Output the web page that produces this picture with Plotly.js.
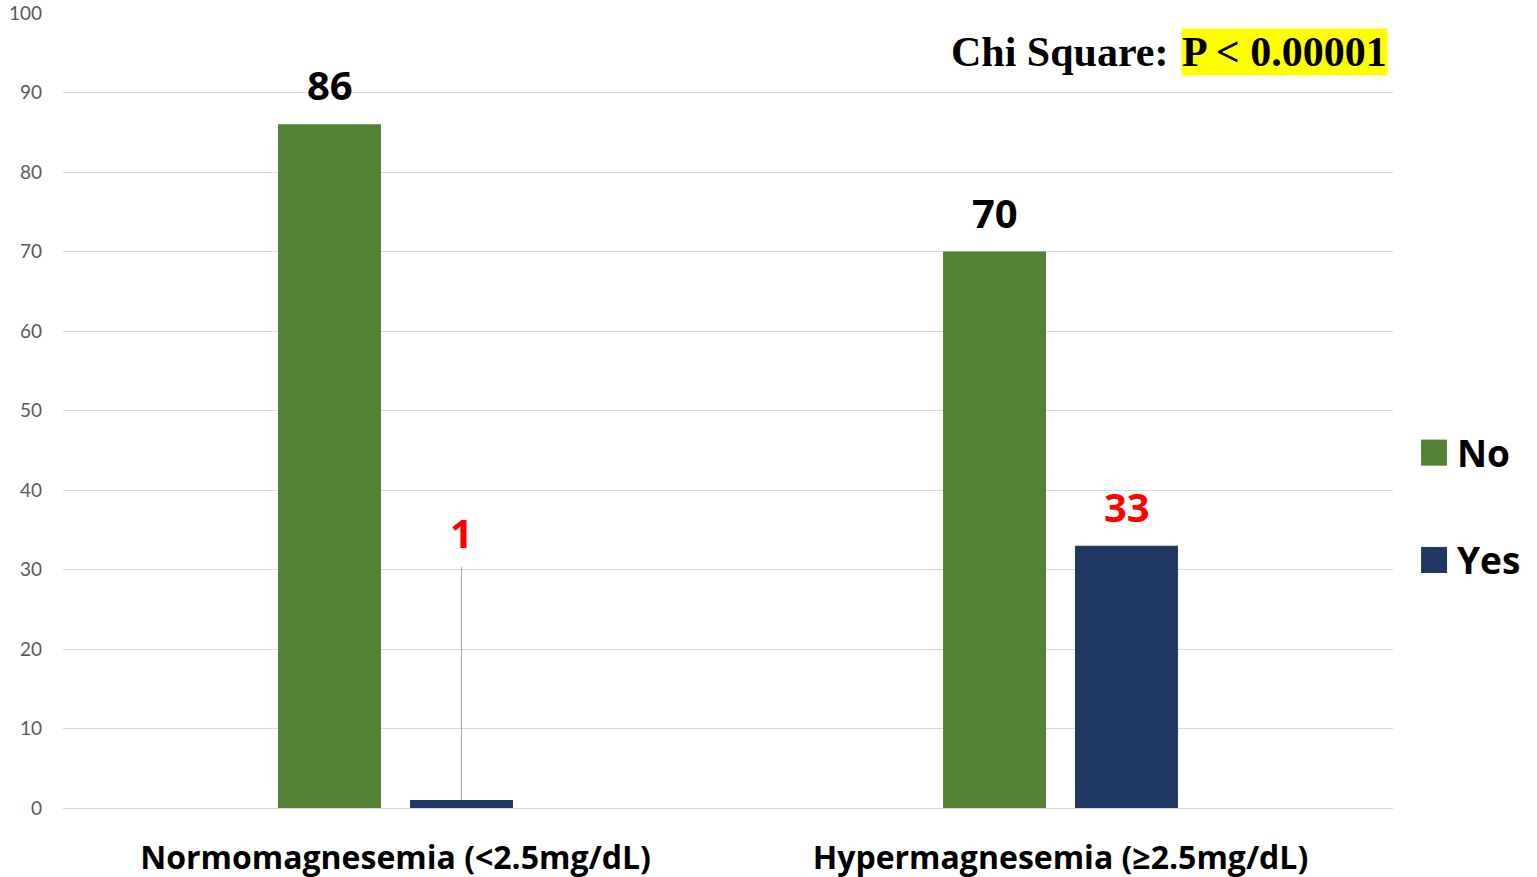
<!DOCTYPE html>
<html>
<head>
<meta charset="utf-8">
<script src="https://cdn.plot.ly/plotly-3.0.1.min.js"></script>
<style>html,body{margin:0;padding:0;background:#fff;}#chart{width:1537px;height:877px;}</style>
</head>
<body>
<div id="chart"></div>
<script>
const categories = ["Normomagnesemia (<2.5mg/dL)", "Hypermagnesemia (≥2.5mg/dL)"];
const seriesNames = ["No", "Yes"];
const noValues = [86, 70];
const yesValues = [1, 33];
const yTicks = [0, 10, 20, 30, 40, 50, 60, 70, 80, 90, 100];
const statText = "Chi Square:";
const statValue = "P < 0.00001";

const colors = {No: "#548235", Yes: "#203864"};
const labelColors = {No: "#000000", Yes: "#ff0000"};
const font = "'Open Sans', Lato, sans-serif";
const tickFont = "Lato, 'Open Sans', sans-serif";
const serif = "'Liberation Serif', 'Times New Roman', serif";

const bargap = 0.603, bargroupgap = 0.22;
const slot = (1 - bargap) / 2;

const traces = [
  {type: "bar", name: seriesNames[0], x: [0, 1], y: noValues, marker: {color: colors.No}, showlegend: false, hoverinfo: "y"},
  {type: "bar", name: seriesNames[1], x: [0, 1], y: yesValues, marker: {color: colors.Yes}, showlegend: false, hoverinfo: "y"}
];

const annotations = [];
[[noValues, "No", -1], [yesValues, "Yes", 1]].forEach(([vals, nm, side]) => {
  vals.forEach((v, i) => {
    const x = i + side * slot / 2;
    if (v < 5) {
      annotations.push({x: x, y: v, xref: "x", yref: "y", text: "<b>" + v + "</b>",
        showarrow: true, arrowhead: 0, arrowwidth: 1, arrowcolor: "#a6a6a6",
        ax: 0, ay: -268, startstandoff: 6,
        font: {family: font, size: 40, color: labelColors[nm]}});
    } else {
      annotations.push({x: x, y: v, xref: "x", yref: "y", text: "<b>" + v + "</b>",
        showarrow: false, yanchor: "bottom", yshift: 10,
        font: {family: font, size: 40, color: labelColors[nm]}});
    }
  });
});

annotations.push({xref: "paper", yref: "paper", x: 0.996, y: 0.951, xanchor: "right", yanchor: "middle",
  text: "<b>" + statValue + "</b>", showarrow: false, bgcolor: "#ffff00", borderpad: 0,
  font: {family: serif, size: 42, color: "#000"}});
annotations.push({xref: "paper", yref: "paper", x: 0.832, y: 0.951, xanchor: "right", yanchor: "middle",
  text: "<b>" + statText + "</b>", showarrow: false,
  font: {family: serif, size: 42, color: "#000"}});

// legend
const shapes = [];
const legendY = [0.447, 0.312];
seriesNames.forEach((nm, k) => {
  shapes.push({type: "rect", xref: "paper", yref: "paper", x0: 1.0211, x1: 1.0406,
    y0: legendY[k] - 0.0164, y1: legendY[k] + 0.0164, fillcolor: colors[nm], line: {width: 0}});
  annotations.push({xref: "paper", yref: "paper", x: 1.0466, y: legendY[k], xanchor: "left", yanchor: "middle",
    text: "<b>" + nm + "</b>", showarrow: false, font: {family: font, size: 37, color: "#000"}});
});

const layout = {
  width: 1537, height: 877,
  margin: {l: 63, r: 144, t: 13, b: 69},
  paper_bgcolor: "#fff", plot_bgcolor: "#fff",
  barmode: "group", bargap: bargap, bargroupgap: bargroupgap,
  showlegend: false,
  xaxis: {tickmode: "array", tickvals: [0, 1], ticktext: categories.map(c => "<b>" + c + "</b>"),
    range: [-0.5, 1.5], showgrid: false, zeroline: false, showline: false, ticks: "",
    tickfont: {family: font, size: 32, color: "#000"}, ticklabelstandoff: 28},
  yaxis: {range: [0, 100], tickvals: yTicks, showgrid: true, gridcolor: "#d9d9d9", gridwidth: 1,
    zeroline: true, zerolinecolor: "#d9d9d9", zerolinewidth: 1, showline: false, ticks: "",
    tickfont: {family: tickFont, size: 19, color: "#595959"}, ticklabelstandoff: 20},
  annotations: annotations, shapes: shapes
};

Plotly.newPlot("chart", traces, layout, {displayModeBar: false});
</script>
</body>
</html>
